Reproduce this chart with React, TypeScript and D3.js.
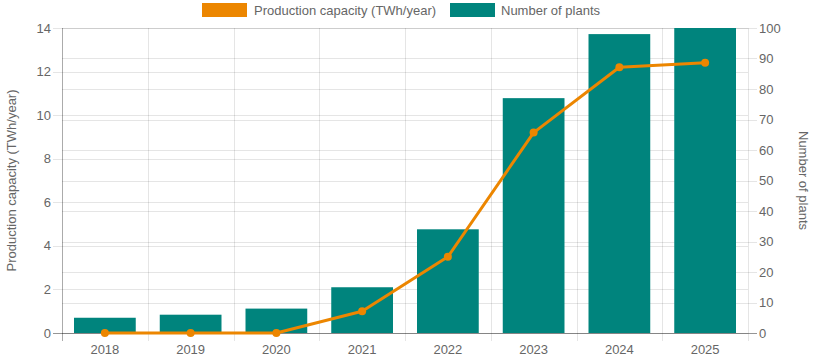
import React from "react";
import * as d3 from "d3";

const years = ["2018", "2019", "2020", "2021", "2022", "2023", "2024", "2025"];
const capacity = [0, 0, 0, 1.0, 3.5, 9.2, 12.2, 12.4];
const plants = [5, 6, 8, 15, 34, 77, 98, 100];
const leftTicks = [0, 2, 4, 6, 8, 10, 12, 14];
const rightTicks = [0, 10, 20, 30, 40, 50, 60, 70, 80, 90, 100];

const W = 834, H = 356;
const M = { left: 62, right: 748, top: 28, bottom: 333 };
const ORANGE = "#ec8600";
const TEAL = "#00847d";
const TXT = "#666";
const FONT = "'Liberation Sans', Arial, Helvetica, sans-serif";
const FS = 13;

export default function App() {
  const x = d3.scaleBand().domain(years).range([M.left, M.right]).paddingInner(0).paddingOuter(0);
  const yL = d3.scaleLinear().domain([0, 14]).range([M.bottom, M.top]);
  const yR = d3.scaleLinear().domain([0, 100]).range([M.bottom, M.top]);
  const bw = x.bandwidth() * 0.72;
  const line = d3.line<number>().x((_, i) => x(years[i])! + x.bandwidth() / 2).y((d) => yL(d));
  const grid = "rgba(0,0,0,0.1)";
  const boundaries = years.map((y) => x(y)!).concat([M.right]);

  return (
    <svg width={W} height={H} style={{ position: "absolute", left: 0, top: 0, fontFamily: FONT }}>
      {/* grid */}
      {leftTicks.map((t) => (
        <line key={"gl" + t} x1={M.left - 9} x2={M.right} y1={Math.round(yL(t)) + 0.5} y2={Math.round(yL(t)) + 0.5} stroke={grid} />
      ))}
      {rightTicks.map((t) => (
        <line key={"gr" + t} x1={M.left} x2={M.right + 9} y1={Math.round(yR(t)) + 0.5} y2={Math.round(yR(t)) + 0.5} stroke={grid} />
      ))}
      {boundaries.map((b, i) => (
        <line key={"gx" + i} x1={Math.round(b) + 0.5} x2={Math.round(b) + 0.5} y1={M.top} y2={M.bottom + 8} stroke={grid} />
      ))}
      <line x1={M.left + 0.5} x2={M.left + 0.5} y1={M.top} y2={M.bottom + 8} stroke="rgba(0,0,0,0.25)" />
      <line x1={M.left - 9} x2={M.right + 9} y1={M.bottom + 0.5} y2={M.bottom + 0.5} stroke="rgba(0,0,0,0.35)" />

      {/* bars */}
      {plants.map((v, i) => (
        <rect key={"b" + i} x={x(years[i])! + (x.bandwidth() - bw) / 2} y={yR(v)} width={bw} height={M.bottom - yR(v)} fill={TEAL} />
      ))}

      {/* line */}
      <path d={line(capacity) || ""} fill="none" stroke={ORANGE} strokeWidth={3} strokeLinejoin="round" />
      {capacity.map((v, i) => (
        <circle key={"p" + i} cx={x(years[i])! + x.bandwidth() / 2} cy={yL(v)} r={4} fill={ORANGE} />
      ))}

      {/* ticks */}
      {leftTicks.map((t) => (
        <text key={"lt" + t} x={M.left - 11} y={yL(t)} dy="0.35em" textAnchor="end" fontSize={FS} fill={TXT}>{t}</text>
      ))}
      {rightTicks.map((t) => (
        <text key={"rt" + t} x={M.right + 11} y={yR(t)} dy="0.35em" textAnchor="start" fontSize={FS} fill={TXT}>{t}</text>
      ))}
      {years.map((y) => (
        <text key={"xt" + y} x={x(y)! + x.bandwidth() / 2} y={349.5} dy="0.35em" textAnchor="middle" fontSize={FS} fill={TXT}>{y}</text>
      ))}

      {/* axis titles */}
      <text transform={`translate(11,${(M.top + M.bottom) / 2}) rotate(-90)`} dy="0.35em" textAnchor="middle" fontSize={FS} fill={TXT}>Production capacity (TWh/year)</text>
      <text transform={`translate(804,${(M.top + M.bottom) / 2}) rotate(90)`} dy="0.35em" textAnchor="middle" fontSize={FS} fill={TXT}>Number of plants</text>

      {/* legend */}
      <rect x={202} y={3} width={45} height={14} fill={ORANGE} />
      <text x={254} y={10} dy="0.35em" fontSize={FS} fill={TXT}>Production capacity (TWh/year)</text>
      <rect x={450} y={3} width={45} height={14} fill={TEAL} />
      <text x={501} y={10} dy="0.35em" fontSize={FS} fill={TXT}>Number of plants</text>
    </svg>
  );
}
